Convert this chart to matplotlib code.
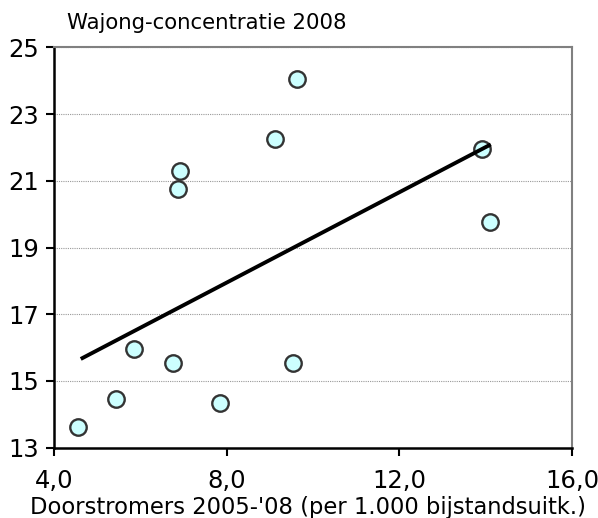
import numpy as np
import matplotlib
matplotlib.use('Agg')
import matplotlib.pyplot as plt
from matplotlib.ticker import FuncFormatter

# Data
doorstromers = [4.55, 5.43, 5.86, 6.76, 7.85, 9.54, 9.64, 9.13, 6.92, 6.87, 13.92, 14.10]
wajong = [13.61, 14.45, 15.95, 15.53, 14.33, 15.53, 24.05, 22.25, 21.29, 20.75, 21.94, 19.77]
trend_x = [4.62, 14.12]
trend_y = [15.66, 22.09]

x_ticks = [4, 8, 12, 16]
y_ticks = [13, 15, 17, 19, 21, 23, 25]

plt.rcParams['font.family'] = ['DejaVu Sans']

fig = plt.figure(figsize=(5.98, 5.18), dpi=100)
ax = fig.add_axes([0.0903, 0.1357, 0.8662, 0.773])

ax.set_xlim(4, 16)
ax.set_ylim(13, 25)

# grid lines
for yv in y_ticks[1:]:
    ax.axhline(yv, color='#999999', linestyle=(0, (1, 1)), linewidth=0.8, zorder=1)

ax.scatter(doorstromers, wajong, s=140, facecolor='#ccffff', edgecolor='#333333', linewidth=1.7, zorder=3)
ax.plot(trend_x, trend_y, color='black', linewidth=2.8, zorder=4, solid_capstyle='butt')

ax.set_xticks(x_ticks)
ax.set_yticks(y_ticks)
ax.xaxis.set_major_formatter(FuncFormatter(lambda v, _: f'{v:.1f}'.replace('.', ',')))
ax.tick_params(axis='both', direction='out', length=6, width=1.5, labelsize=17.5, color='black')
ax.tick_params(axis='y', pad=5)
ax.tick_params(axis='x', pad=9)

ax.spines['left'].set_linewidth(1.8)
ax.spines['bottom'].set_linewidth(1.8)
ax.spines['top'].set_color('#808080')
ax.spines['top'].set_linewidth(1.5)
ax.spines['right'].set_color('#808080')
ax.spines['right'].set_linewidth(1.5)

fig.text(67 / 598, 1 - 29 / 518, 'Wajong-concentratie 2008', fontsize=15.3, ha='left', va='baseline')
fig.text(308 / 598, 1 - 514 / 518, "Doorstromers 2005-'08 (per 1.000 bijstandsuitk.)", fontsize=16.3, ha='center', va='baseline')

fig.savefig('out.png', dpi=100)
